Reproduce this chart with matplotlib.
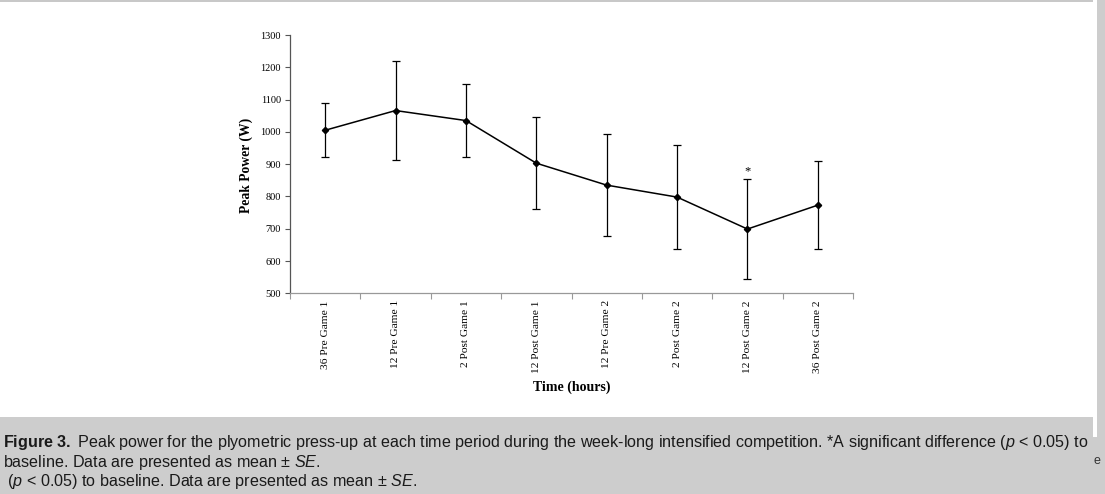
import numpy as np
import matplotlib
matplotlib.use("Agg")
import matplotlib.pyplot as plt
from matplotlib.patches import Rectangle

plt.rcParams['mathtext.fontset'] = 'custom'
plt.rcParams['mathtext.rm'] = 'Liberation Sans'
plt.rcParams['mathtext.it'] = 'Liberation Sans:italic'
plt.rcParams['mathtext.bf'] = 'Liberation Sans:bold'

# data
periods = ["36 Pre Game 1", "12 Pre Game 1", "2 Post Game 1", "12 Post Game 1",
           "12 Pre Game 2", "2 Post Game 2", "12 Post Game 2", "36 Post Game 2"]
peak_power = [1005, 1066, 1035, 903, 835, 798, 699, 773]
peak_se = [84, 153, 112, 143, 158, 161, 156, 136]
significant = [6]

W, H = 1105, 494
fig = plt.figure(figsize=(W / 100, H / 100), dpi=100, facecolor='white')

# page decoration: gray caption band, top rule, right strip
fig.patches.append(Rectangle((0, 0), 1, (H - 417) / H, transform=fig.transFigure,
                             facecolor='#cdcdcd', edgecolor='none', zorder=0))
fig.patches.append(Rectangle((0, (H - 2) / H), 1093 / W, 2 / H, transform=fig.transFigure,
                             facecolor='#c8c8c8', edgecolor='none', zorder=0))
fig.patches.append(Rectangle((1097 / W, 0), 8 / W, 1, transform=fig.transFigure,
                             facecolor='#cdcdcd', edgecolor='none', zorder=0))
fig.patches.append(Rectangle((1093 / W, (H - 437) / H), 4 / W, 20 / H, transform=fig.transFigure,
                             facecolor='white', edgecolor='none', zorder=1))

ax = fig.add_axes([290 / W, (H - 293.3) / H, 563 / W, 258.3 / H])
ax.set_facecolor('none')
x = np.arange(len(periods))
ax.errorbar(x, peak_power, yerr=peak_se, color='black', lw=1.1, marker='D', ms=3.2,
            ecolor='black', elinewidth=0.9, capsize=2.6, capthick=0.9)
for i in significant:
    ax.text(x[i], peak_power[i] + peak_se[i] + 24, "*", ha='center', va='center',
            fontsize=9, family='Liberation Serif')

ax.set_xlim(-0.5, len(periods) - 0.5)
ax.set_ylim(500, 1300)
ax.set_yticks(np.arange(500, 1301, 100))
ax.set_yticklabels([str(v) for v in range(500, 1301, 100)], family='Liberation Serif', fontsize=7.5)
ax.set_xticks(np.arange(-0.5, len(periods), 1))
ax.set_xticklabels([])
ax.set_xticks(x, minor=True)
ax.set_xticklabels(periods, minor=True, rotation=90, family='Liberation Serif',
                   fontsize=8.2, va='top', ha='center')
ax.tick_params(axis='x', which='minor', length=0, pad=5)
ax.tick_params(axis='x', which='major', length=4, direction='out', color='#999999')
ax.tick_params(axis='y', length=3.6, direction='out', color='#555555', pad=3)
for s in ['top', 'right']:
    ax.spines[s].set_visible(False)
ax.spines['bottom'].set_color('#999999')
ax.spines['left'].set_color('#555555')
ax.spines['bottom'].set_linewidth(0.9)
ax.spines['left'].set_linewidth(0.9)

fig.text(246 / W, (H - 165) / H, "Peak Power (W)", rotation=90, ha='center', va='center',
         family='Liberation Serif', fontweight='bold', fontsize=9.8)
fig.text(571.5 / W, (H - 387) / H, "Time (hours)", ha='center', va='center',
         family='Liberation Serif', fontweight='bold', fontsize=10)

cap_kw = dict(family='Liberation Sans', fontsize=11.6, color='#1a1a1a', va='center', ha='left')
fig.text(3 / W, (H - 442) / H,
         r"$\mathbf{Figure\ 3.}$ Peak power for the plyometric press-up at each time period during the "
         r"week-long intensified competition. *A significant difference ($\mathit{p}$ < 0.05) to",
         **cap_kw)
fig.text(3 / W, (H - 462) / H, r"baseline. Data are presented as mean ± $\mathit{SE}$.", **cap_kw)
fig.text(3 / W, (H - 481) / H,
         r" ($\mathit{p}$ < 0.05) to baseline. Data are presented as mean ± $\mathit{SE}$.", **cap_kw)
fig.text(1093 / W, (H - 461) / H, "e", family='Liberation Sans', fontsize=9, color='#333333',
         va='center', ha='left')

fig.savefig("out.png", dpi=100, facecolor='white')
